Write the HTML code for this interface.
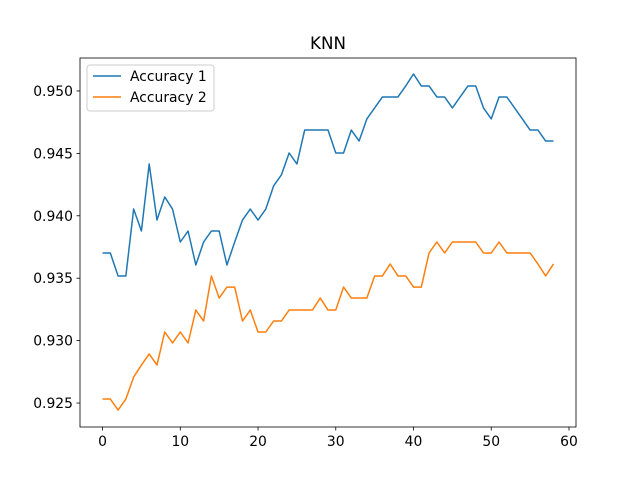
<!DOCTYPE html>
<html><head><meta charset="utf-8"><style>
body{margin:0;background:#fff;}
svg{display:block;font-family:"DejaVu Sans","Liberation Sans",sans-serif;}
</style></head><body>
<svg id="chart" width="640" height="480">
<rect x="0" y="0" width="640" height="480" fill="#fff"/>
<text x="328" y="49" text-anchor="middle" font-size="16.7">KNN</text>
<g id="plot"></g>
</svg>
<script>
const xTicks=[0,10,20,30,40,50,60];
const yTicks=[0.925,0.930,0.935,0.940,0.945,0.950];
const yTickLabels=["0.925","0.930","0.935","0.940","0.945","0.950"];
const acc1=[0.93702,0.93702,0.93518,0.93518,0.94054,0.93878,0.94415,0.93966,0.94151,0.94054,0.93790,0.93878,0.93606,0.93790,0.93878,0.93878,0.93606,0.93790,0.93966,0.94054,0.93966,0.94054,0.94239,0.94327,0.94503,0.94415,0.94687,0.94687,0.94687,0.94687,0.94503,0.94503,0.94687,0.94599,0.94776,0.94864,0.94952,0.94952,0.94952,0.95040,0.95136,0.95040,0.95040,0.94952,0.94952,0.94864,0.94952,0.95040,0.95040,0.94864,0.94776,0.94952,0.94952,0.94864,0.94776,0.94687,0.94687,0.94599,0.94599];
const acc2=[0.92532,0.92532,0.92444,0.92532,0.92708,0.92804,0.92893,0.92804,0.93069,0.92981,0.93069,0.92981,0.93245,0.93157,0.93518,0.93341,0.93429,0.93429,0.93157,0.93245,0.93069,0.93069,0.93157,0.93157,0.93245,0.93245,0.93245,0.93245,0.93341,0.93245,0.93245,0.93429,0.93341,0.93341,0.93341,0.93518,0.93518,0.93614,0.93518,0.93518,0.93429,0.93429,0.93702,0.93790,0.93702,0.93790,0.93790,0.93790,0.93790,0.93702,0.93702,0.93790,0.93702,0.93702,0.93702,0.93702,0.93614,0.93518,0.93614];
const seriesNames=["Accuracy 1","Accuracy 2"];
const colors=["#1f77b4","#ff7f0e"];

const L=80,R=576,T=58,B=427;
const xMin=-2.9,xMax=60.9,yMin=0.92308,yMax=0.95264;
const sx=v=>L+(v-xMin)/(xMax-xMin)*(R-L);
const sy=v=>B-(v-yMin)/(yMax-yMin)*(B-T);
const NS="http://www.w3.org/2000/svg";
const g=document.getElementById('plot');
function mk(tag,attrs){const e=document.createElementNS(NS,tag);for(const k in attrs)e.setAttribute(k,attrs[k]);g.appendChild(e);return e;}

[acc1,acc2].forEach((s,si)=>{
  const p=mk('polyline',{points:s.map((v,i)=>sx(i)+','+sy(v)).join(' '),fill:'none',stroke:colors[si],'stroke-width':1.5,'stroke-linejoin':'round'});
  
  
});
const frame=mk('rect',{x:L,y:T,width:R-L,height:B-T,fill:'none',stroke:'#000','stroke-width':0.8});



xTicks.forEach(t=>{
  const x=sx(t);
  const ln=mk('line',{x1:x,x2:x,y1:B,y2:B+3.5,stroke:'#000','stroke-width':0.8});
  
  
  const tx=mk('text',{x:x,y:B+19,'text-anchor':'middle','font-size':13.9});
  tx.textContent=t;
  
  
});
yTicks.forEach((t,i)=>{
  const y=sy(t);
  const ln=mk('line',{x1:L-3.5,x2:L,y1:y,y2:y,stroke:'#000','stroke-width':0.8});
  
  
  const tx=mk('text',{x:L-7,y:y+5,'text-anchor':'end','font-size':13.9});
  tx.textContent=yTickLabels[i];
  
  
});
// legend
const lg=mk('rect',{x:87,y:65,width:127,height:46,rx:3,fill:'#fff','fill-opacity':0.8,stroke:'#ccc','stroke-width':1});


seriesNames.forEach((n,i)=>{
  const y=76+i*21;
  const ln=mk('line',{x1:93,x2:121,y1:y,y2:y,stroke:colors[i],'stroke-width':1.5});
  
  
  const tx=mk('text',{x:130,y:y+5,'font-size':13.9});
  tx.textContent=n;
  
  
});
</script>
</body></html>
